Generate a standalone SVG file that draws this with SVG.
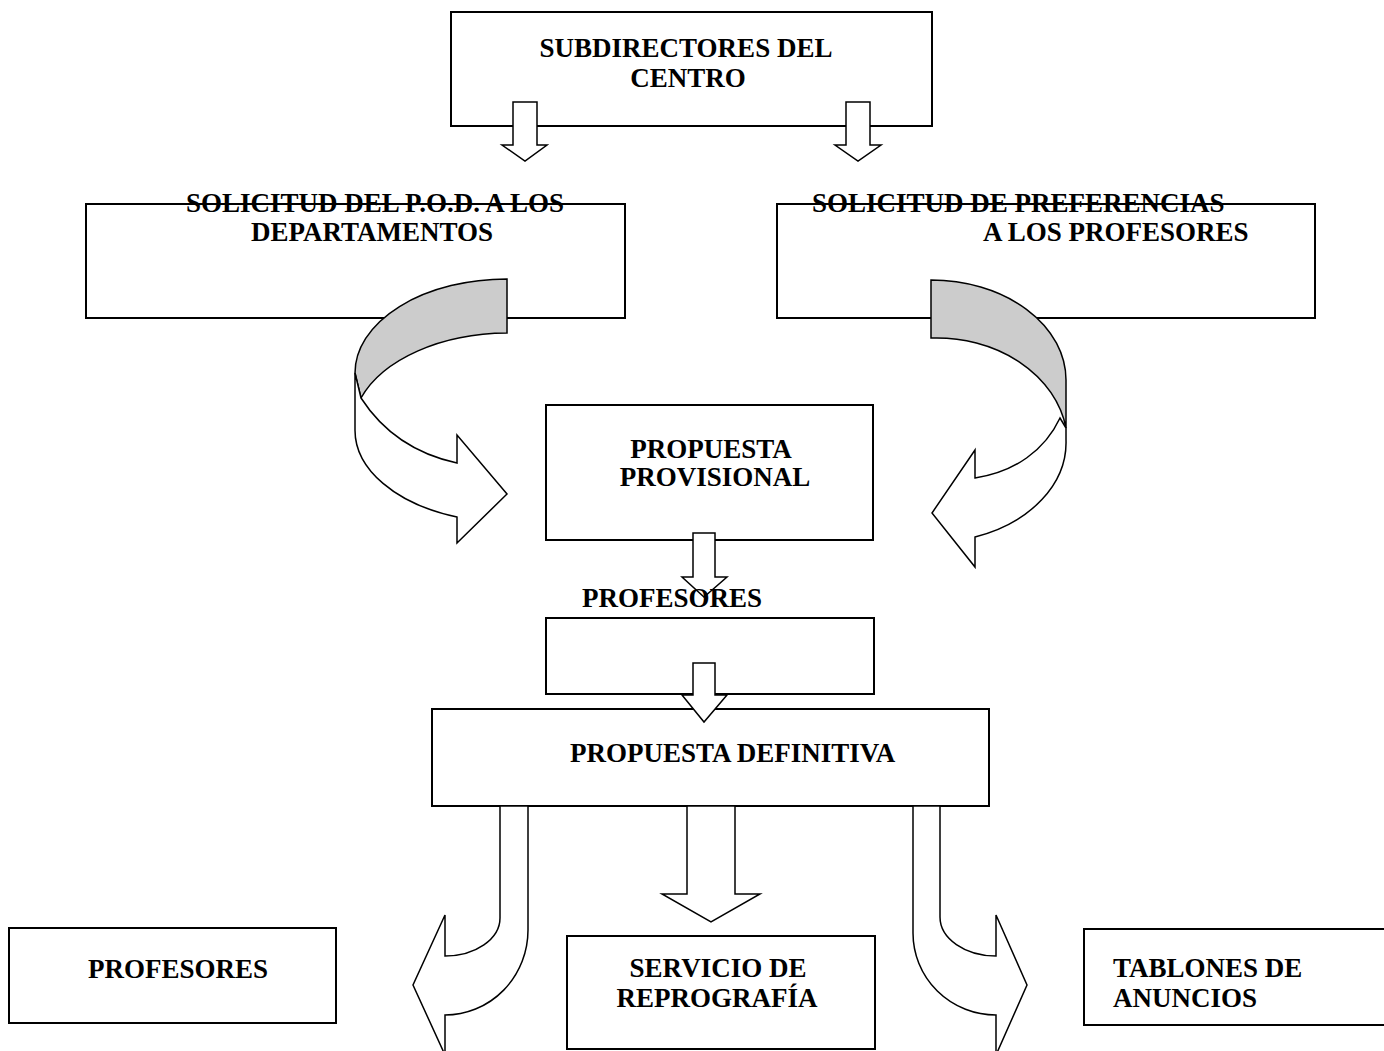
<svg xmlns="http://www.w3.org/2000/svg" width="1384" height="1051" viewBox="0 0 1384 1051">
  <style>
    .box { fill: #ffffff; stroke: #000000; stroke-width: 2; }
    .arrow { fill: #ffffff; stroke: #000000; stroke-width: 1.5; stroke-linejoin: miter; }
    .shade { fill: #cccccc; stroke: #000000; stroke-width: 1.5; }
    .t { font-family: "Liberation Serif", "Times New Roman", serif; font-weight: bold; font-size: 27px; fill: #000000; }
    .c { text-anchor: middle; }
  </style>
  <rect x="0" y="0" width="1384" height="1051" fill="#ffffff"/>

  <g id="node-subdirectores">
    <rect class="box" x="451" y="12" width="481" height="114"/>
    <text class="t c" x="686" y="57">SUBDIRECTORES DEL</text>
    <text class="t c" x="688" y="87">CENTRO</text>
  </g>

  <g id="node-solicitud-pod">
    <rect class="box" x="86" y="204" width="539" height="114"/>
    <text class="t c" x="375" y="212">SOLICITUD DEL P.O.D. A LOS</text>
    <text class="t c" x="372" y="241">DEPARTAMENTOS</text>
  </g>

  <g id="node-solicitud-preferencias">
    <rect class="box" x="777" y="204" width="538" height="114"/>
    <text class="t" x="812" y="212">SOLICITUD DE PREFERENCIAS</text>
    <text class="t" x="983" y="241">A LOS PROFESORES</text>
  </g>

  <g id="node-propuesta-provisional">
    <rect class="box" x="546" y="405" width="327" height="135"/>
    <text class="t c" x="711" y="458">PROPUESTA</text>
    <text class="t c" x="715" y="486">PROVISIONAL</text>
  </g>

  <g id="node-profesores-revision">
    <rect class="box" x="546" y="618" width="328" height="76"/>
  </g>

  <g id="node-propuesta-definitiva">
    <rect class="box" x="432" y="709" width="557" height="97"/>
    <text class="t" x="570" y="762">PROPUESTA DEFINITIVA</text>
  </g>

  <g id="node-profesores">
    <rect class="box" x="9" y="928" width="327" height="95"/>
    <text class="t" x="88" y="978">PROFESORES</text>
  </g>

  <g id="node-reprografia">
    <rect class="box" x="567" y="936" width="308" height="113"/>
    <text class="t c" x="718" y="977">SERVICIO DE</text>
    <text class="t c" x="717" y="1007">REPROGRAFÍA</text>
  </g>

  <g id="node-tablones">
    <rect class="box" x="1084" y="929" width="310" height="96"/>
    <text class="t" x="1113" y="977">TABLONES DE</text>
    <text class="t" x="1113" y="1007">ANUNCIOS</text>
  </g>

  <g id="connectors">
    <!-- top block arrows -->
    <path class="arrow" d="M513,102 L513,145 L502,145 L525,161 L547,145 L537,145 L537,102 Z"/>
    <path class="arrow" d="M846,102 L846,145 L835,145 L858,161 L881,145 L870,145 L870,102 Z"/>

    <!-- left curved arrow -->
    <path class="shade" d="M507,279 A152 94 0 0 0 355,373 L361,398 A156 97 0 0 1 507,333 Z"/>
    <path class="arrow" d="M355,373 L355,430 A152 92 0 0 0 457,517 L457,543 L507,494 L457,435 L457,463 C420,455 385,435 361,398 Z"/>

    <!-- right curved arrow -->
    <path class="shade" d="M931,280 A135 100 0 0 1 1066,380 L1066,428 A131 107 0 0 0 931,338 Z"/>
    <path class="arrow" d="M1060,418 L1066,428 L1066,440 A135 100 0 0 1 975,537 L975,567 L932,513 L975,450 L975,478 C1015,472 1045,450 1060,418 Z"/>

    <!-- provisional -> profesores -->
    <path class="arrow" d="M693,533 L693,577 L682,577 L704,597 L727,577 L715,577 L715,533 Z"/>
    <!-- profesores -> definitiva -->
    <path class="arrow" d="M693,663 L693,695 L682,695 L704,722 L727,695 L715,695 L715,663 Z"/>

    <!-- definitiva -> profesores (curved left) -->
    <path class="arrow" d="M500,806 L500,918 A55 38 0 0 1 445,956 L445,915 L413,985 L445,1055 L445,1015 A83 85 0 0 0 528,930 L528,806 Z"/>
    <!-- definitiva -> reprografia (straight) -->
    <path class="arrow" d="M687,806 L687,894 L662,894 L711,922 L760,894 L735,894 L735,806 Z"/>
    <!-- definitiva -> tablones (curved right) -->
    <path class="arrow" d="M940,806 L940,917 A56 39 0 0 0 996,956 L996,915 L1027,985 L996,1055 L996,1015 A83 82 0 0 1 913,933 L913,806 Z"/>
  </g>

  <g id="label-profesores">
    <text class="t" x="582" y="607">PROFESORES</text>
  </g>
</svg>
